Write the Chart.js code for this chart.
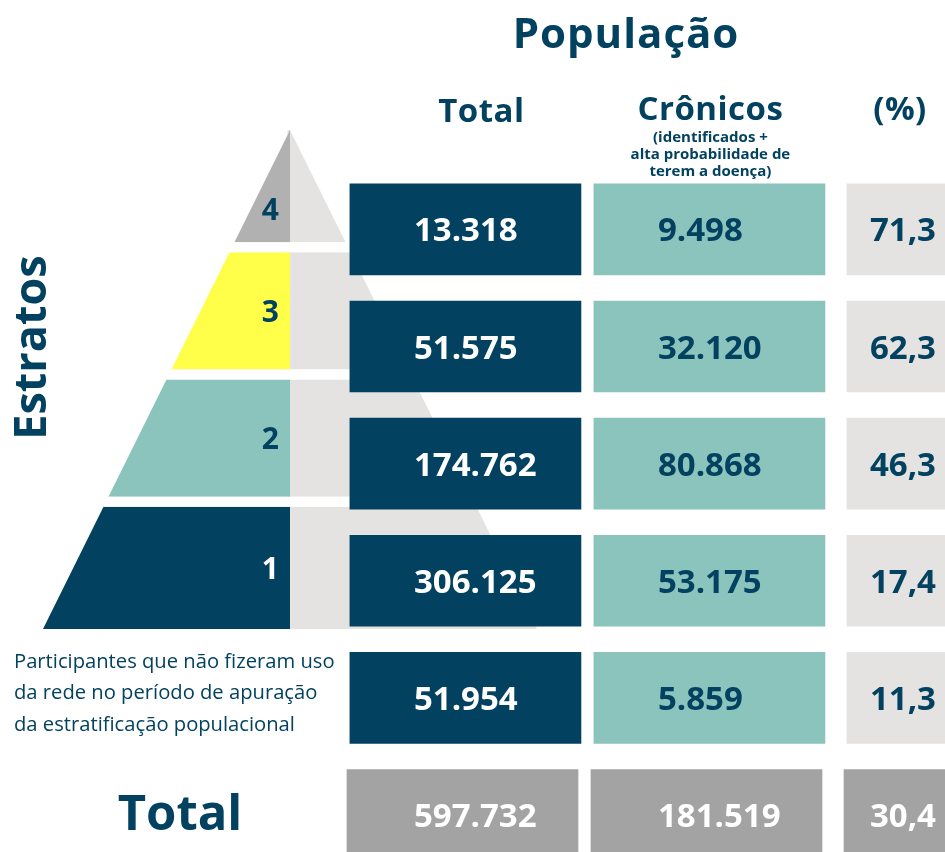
<!DOCTYPE html>
<html lang="pt-BR">
<head>
<meta charset="utf-8">
<script src="https://cdn.jsdelivr.net/npm/chart.js@4.4.1/dist/chart.umd.min.js"></script>
<style>
  html, body { margin: 0; padding: 0; background: #fff; }
  #wrap { position: relative; width: 945px; height: 852px; overflow: hidden; }
  #pyramid { position: absolute; left: 43px; top: 130px; }
  #table { position: absolute; left: 0; top: 0; }
</style>
</head>
<body>
<div id="wrap">
  <canvas id="pyramid" width="494" height="499"></canvas>
  <canvas id="table" width="945" height="852"></canvas>
</div>
<script>
// rows of the table, top to bottom
var rows = ['4', '3', '2', '1', 'Participantes', 'Total'];
var totalPop = [13318, 51575, 174762, 306125, 51954, 597732];
var cronicos = [9498, 32120, 80868, 53175, 5859, 181519];
var percent = [71.3, 62.3, 46.3, 17.4, 11.3, 30.4];
var columns = ['Total', 'Crônicos', '(%)'];
var strata = ['1', '2', '3', '4'];   // pyramid, bottom to top
var otherRowText = ['Participantes que não fizeram uso', 'da rede no período de apuração', 'da estratificação populacional'];

var navy = '#02415f', teal = '#8bc3bd', light = '#e4e3e1', grey = '#a3a3a3';
var FONT = '"Open Sans", "Noto Sans", sans-serif';

function fmtInt(n) { return String(n).replace(/\B(?=(\d{3})+(?!\d))/g, '.'); }
function fmtPct(n) { return n.toFixed(1).replace('.', ','); }

// ---------- pyramid ----------
var strataColors = [navy, teal, '#ffff4a', '#b1b1b1'];
var strataText = ['#ffffff', navy, navy, navy];

function band(i) {
  var lo = i ? i * 1.02 + 0.04 : 0;
  var hi = Math.min(4, i * 1.02 + 0.98);
  return [lo, hi];
}
function halfWidth(y) { return 1 - y / 4; }

var pyrSets = [];
strata.forEach(function (s, i) {
  var b = band(i);
  pyrSets.push({
    label: 'Estrato ' + s,
    data: [{x: -halfWidth(b[0]), y: b[0]}, {x: -halfWidth(b[1]), y: b[1]}],
    backgroundColor: strataColors[i],
    fill: {value: 0},
    borderWidth: 0, pointRadius: 0, order: 1
  });
  pyrSets.push({
    label: 'Estrato ' + s + ' (resto)',
    data: [{x: halfWidth(b[0]), y: b[0]}, {x: halfWidth(b[1]), y: b[1]}],
    backgroundColor: light,
    fill: {value: -0.01},
    borderWidth: 0, pointRadius: 0, order: 2
  });
});

var pyrLabels = {
  id: 'pyrLabels',
  afterDatasetsDraw: function (chart) {
    var ctx = chart.ctx, xs = chart.scales.x, ys = chart.scales.y;
    ctx.save();
    ctx.font = 'bold 30px ' + FONT;
    ctx.textAlign = 'center';
    ctx.textBaseline = 'alphabetic';
    strata.forEach(function (s, i) {
      var b = band(i);
      var yv = i === 3 ? b[0] + 0.3 * (b[1] - b[0]) : (b[0] + b[1]) / 2;
      ctx.fillStyle = strataText[i];
      ctx.fillText(s, xs.getPixelForValue(-0.08), ys.getPixelForValue(yv) + 11);
    });
    ctx.restore();
  }
};

new Chart(document.getElementById('pyramid'), {
  type: 'line',
  data: { datasets: pyrSets },
  options: {
    indexAxis: 'y',
    responsive: false,
    animation: false,
    layout: { padding: 0 },
    plugins: { legend: { display: false }, tooltip: { enabled: false } },
    scales: {
      x: { type: 'linear', min: -1, max: 1, display: false },
      y: { type: 'linear', min: 0, max: 4, display: false }
    }
  },
  plugins: [pyrLabels]
});

// ---------- table ----------
var colStart = [0, 1, 2.037];
var colWidth = [0.947, 0.947, 0.463];
var rowShift = [0, 0, 0, 0, 0, -0.012];
var colValues = [totalPop, cronicos, percent];
var colFormat = [fmtInt, fmtInt, fmtPct];
var colAlign = ['left', 'left', 'right'];
var colInset = [64, 64, 89];
var cellColors = [
  [navy, navy, navy, navy, navy, grey],
  [teal, teal, teal, teal, teal, grey],
  [light, light, light, light, light, grey]
];
var cellText = [
  ['#fff', '#fff', '#fff', '#fff', '#fff', '#fff'],
  [navy, navy, navy, navy, navy, '#fff'],
  [navy, navy, navy, navy, navy, '#fff']
];

var tableSets = columns.map(function (c, j) {
  return {
    label: c,
    data: rows.map(function (r, i) {
      var s = colStart[j] + rowShift[i];
      return [s, s + colWidth[j]];
    }),
    backgroundColor: cellColors[j],
    barThickness: 91,
    grouped: false,
    clip: false,
    borderWidth: 0
  };
});

var cellLabels = {
  id: 'cellLabels',
  afterDatasetsDraw: function (chart) {
    var ctx = chart.ctx, xs = chart.scales.x;
    ctx.save();
    ctx.font = 'bold 33px ' + FONT;
    ctx.textBaseline = 'alphabetic';
    chart.data.datasets.forEach(function (ds, j) {
      var tx = xs.getPixelForValue(colStart[j]) + colInset[j];
      ctx.textAlign = colAlign[j];
      chart.getDatasetMeta(j).data.forEach(function (el, i) {
        var p = el.getProps(['y'], true);
        ctx.fillStyle = cellText[j][i];
        ctx.fillText(colFormat[j](colValues[j][i]), tx, p.y + 12);
      });
    });
    ctx.restore();
  }
};

var headings = {
  id: 'headings',
  afterDraw: function (chart) {
    var ctx = chart.ctx, xs = chart.scales.x, ys = chart.scales.y;
    function colCenter(j) { return xs.getPixelForValue(colStart[j] + colWidth[j] / 2); }
    ctx.save();
    ctx.fillStyle = navy;
    ctx.textAlign = 'center';
    ctx.textBaseline = 'alphabetic';

    ctx.font = 'bold 42px ' + FONT;
    ctx.letterSpacing = '1px';
    ctx.fillText('População', 626, 48);

    ctx.font = 'bold 33px ' + FONT;
    ctx.letterSpacing = '0.5px';
    ctx.fillText(columns[0], colCenter(0) + 16, 122);
    ctx.fillText(columns[1], colCenter(1) + 1, 120);
    ctx.fillText(columns[2], 900, 120);

    ctx.letterSpacing = '0px';
    ctx.font = 'bold 15px ' + FONT;
    ctx.fillText('(identificados +', colCenter(1) + 1, 142);
    ctx.fillText('alta probabilidade de', colCenter(1) + 1, 159);
    ctx.fillText('terem a doença)', colCenter(1) + 1, 176);

    // Estratos, vertical
    ctx.save();
    ctx.translate(46, 347.5);
    ctx.rotate(-Math.PI / 2);
    ctx.font = 'bold 45px ' + FONT;
    ctx.fillText('Estratos', 0, 0);
    ctx.restore();

    // row labels for the last two rows
    var yPart = ys.getPixelForValue(4);
    ctx.textAlign = 'left';
    ctx.font = '20.2px ' + FONT;
    otherRowText.forEach(function (t, k) {
      ctx.fillText(t, 14, yPart - 30 + k * 31.5);
    });

    ctx.textAlign = 'center';
    ctx.font = 'bold 49px ' + FONT;
    ctx.fillText(rows[5], 180, ys.getPixelForValue(5) + 15);
    ctx.restore();
  }
};

new Chart(document.getElementById('table'), {
  type: 'bar',
  data: { labels: rows, datasets: tableSets },
  options: {
    indexAxis: 'y',
    responsive: false,
    animation: false,
    layout: { padding: { top: 229.4, bottom: 37, left: 0, right: 0 } },
    plugins: { legend: { display: false }, tooltip: { enabled: false } },
    scales: {
      x: { type: 'linear', min: -1.434, max: 2.439, display: false },
      y: { type: 'category', offset: false, display: false }
    }
  },
  plugins: [cellLabels, headings]
});
</script>
</body>
</html>
